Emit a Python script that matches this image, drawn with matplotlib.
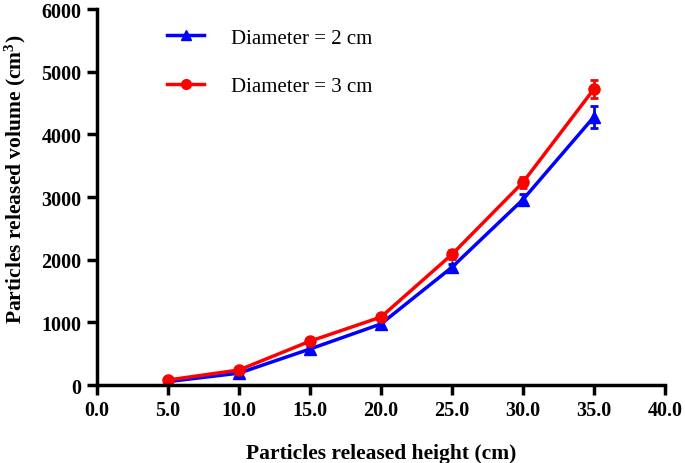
import numpy as np
import matplotlib.pyplot as plt
from matplotlib.lines import Line2D

# data
height = [5, 10, 15, 20, 25, 30, 35]
vol_d2 = [55, 190, 575, 975, 1880, 2960, 4280]
err_d2 = [20, 30, 40, 50, 60, 90, 180]
vol_d3 = [80, 240, 700, 1085, 2085, 3235, 4725]
err_d3 = [20, 30, 40, 50, 70, 90, 150]

plt.rcParams['font.family'] = ['Liberation Serif', 'DejaVu Serif']
plt.rcParams['mathtext.fontset'] = 'custom'
plt.rcParams['mathtext.bf'] = 'Liberation Serif:bold'
plt.rcParams['mathtext.rm'] = 'Liberation Serif'

fig = plt.figure(figsize=(6.85, 4.64), dpi=100)
ax = fig.add_axes([0.1416, 0.168, 0.829, 0.81])

ax.errorbar(height, vol_d2, yerr=err_d2, color='#0000ff', marker='^', markersize=8,
            linewidth=2.5, capsize=3, elinewidth=2, capthick=2)
ax.errorbar(height, vol_d3, yerr=err_d3, color='#ff0000', marker='o', markersize=8,
            linewidth=2.5, capsize=3, elinewidth=2, capthick=2)

ax.set_xlim(0, 40)
ax.set_ylim(0, 6000)
ax.set_xticks(np.arange(0, 41, 5))
ax.set_xticklabels(['%.1f' % v for v in np.arange(0, 41, 5)])
ax.set_yticks(np.arange(0, 6001, 1000))

for s in ['top', 'right']:
    ax.spines[s].set_visible(False)
for s in ['left', 'bottom']:
    ax.spines[s].set_linewidth(2.5)
ax.tick_params(width=2.5, length=7, labelsize=14.5, pad=4)
for lab in ax.get_xticklabels() + ax.get_yticklabels():
    lab.set_fontweight('bold')

ax.set_xlabel('Particles released height (cm)', fontsize=15.5, fontweight='bold', labelpad=16)
ax.set_ylabel('Particles released volume (cm$\\mathbf{^3}$)', fontsize=15.5, fontweight='bold')
ax.yaxis.set_label_coords(-0.122, 0.55)

handles = [Line2D([], [], color='#0000ff', marker='^', markersize=7, linewidth=2.5),
           Line2D([], [], color='#ff0000', marker='o', markersize=7, linewidth=2.5)]
ax.legend(handles, ['Diameter = 2 cm', 'Diameter = 3 cm'], loc='upper left',
          bbox_to_anchor=(0.09, 1.0), frameon=False, fontsize=15,
          labelspacing=1.4, handlelength=1.8, handletextpad=1.3)

plt.savefig('out.png', dpi=100)
